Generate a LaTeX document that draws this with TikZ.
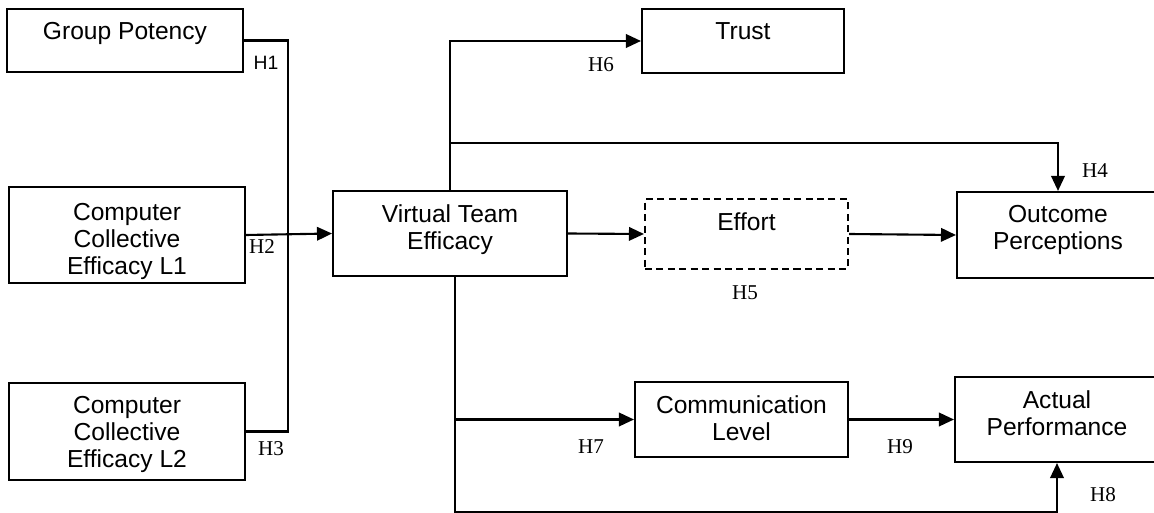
\documentclass[tikz,border=0pt]{standalone}
\usepackage{fontspec}
\setmainfont{Liberation Sans}
\newfontfamily\hypfont{Liberation Serif}
\usetikzlibrary{arrows.meta}
\begin{document}
\begin{tikzpicture}[x=0.02cm,y=-0.02cm,every node/.style={font=\fontsize{14}{15.3}\selectfont},box/.style={draw,line width=1.2pt,inner sep=0pt},dashbox/.style={box,dash pattern=on 4pt off 2.5pt},boxtext/.style={anchor=north,inner sep=0pt,align=center,yshift=-0.28cm},hyp/.style={font=\hypfont\fontsize{12}{14}\selectfont},line/.style={draw,line width=1.2pt},arrow/.style={line,-{Triangle[length=0.3cm,width=0.27cm]}}]
\fill[white] (0,0) rectangle (1154,513);
\useasboundingbox (0,0) rectangle (1154,513);

\node[box,minimum width=4.72cm,minimum height=1.26cm] (gp) at (125,40.5) {};
\node[boxtext] (gp-t) at (gp.north) {Group Potency};
\node[box,minimum width=4.72cm,minimum height=1.92cm] (l1) at (127,235) {};
\node[boxtext,yshift=-0.06cm] (l1-t) at (l1.north) {Computer\\Collective\\Efficacy L1};
\node[box,minimum width=4.72cm,minimum height=1.94cm] (l2) at (127,431.5) {};
\node[boxtext] (l2-t) at (l2.north) {Computer\\Collective\\Efficacy L2};
\node[box,minimum width=4.68cm,minimum height=1.70cm] (vte) at (450,233.5) {};
\node[boxtext] (vte-t) at (vte.north) {Virtual Team\\Efficacy};
\node[box,minimum width=4.04cm,minimum height=1.28cm] (trust) at (743,41) {};
\node[boxtext] (trust-t) at (trust.north) {Trust};
\node[dashbox,minimum width=4.06cm,minimum height=1.40cm] (eff) at (746.5,234) {};
\node[boxtext] (eff-t) at (eff.north) {Effort};
\node[box,minimum width=4.04cm,minimum height=1.72cm] (out) at (1058,235) {};
\node[boxtext] (out-t) at (out.north) {Outcome\\Perceptions};
\node[box,minimum width=4.26cm,minimum height=1.50cm] (comm) at (741.5,419.5) {};
\node[boxtext] (comm-t) at (comm.north) {Communication\\Level};
\node[box,minimum width=4.08cm,minimum height=1.70cm] (act) at (1057,419.5) {};
\node[boxtext] (act-t) at (act.north) {Actual\\Performance};

\coordinate (join) at (288,233);
\coordinate (split) at (450,143);
\coordinate (foot) at (455,512);
\draw[line] (gp.east) -| (join);
\draw[line] (l2.east) -| (join);
\draw[arrow] (l1.east) -- (vte.west);
\draw[arrow] (vte.north) |- (trust.west);
\draw[arrow] (split) -| (out.north);
\draw[arrow] (vte.east) -- (eff.west);
\draw[arrow] (eff.east) -- (out.west);
\draw[arrow] ([xshift=0.1cm]vte.south) |- (foot) -| (act.south);
\draw[arrow] (comm.west -| foot) -- (comm.west);
\draw[arrow] (comm.east) -- (act.west);

\node (h1) at (266,63) {\fontsize{11}{13}\selectfont H1};
\node[hyp] (h2) at (262,247) {H2};
\node[hyp] (h3) at (271,449) {H3};
\node[hyp] (h4) at (1095,171) {H4};
\node[hyp] (h5) at (745,293) {H5};
\node[hyp] (h6) at (601,65) {H6};
\node[hyp] (h7) at (591,447) {H7};
\node[hyp] (h8) at (1103,495) {H8};
\node[hyp] (h9) at (900,447) {H9};
\end{tikzpicture}
\end{document}
